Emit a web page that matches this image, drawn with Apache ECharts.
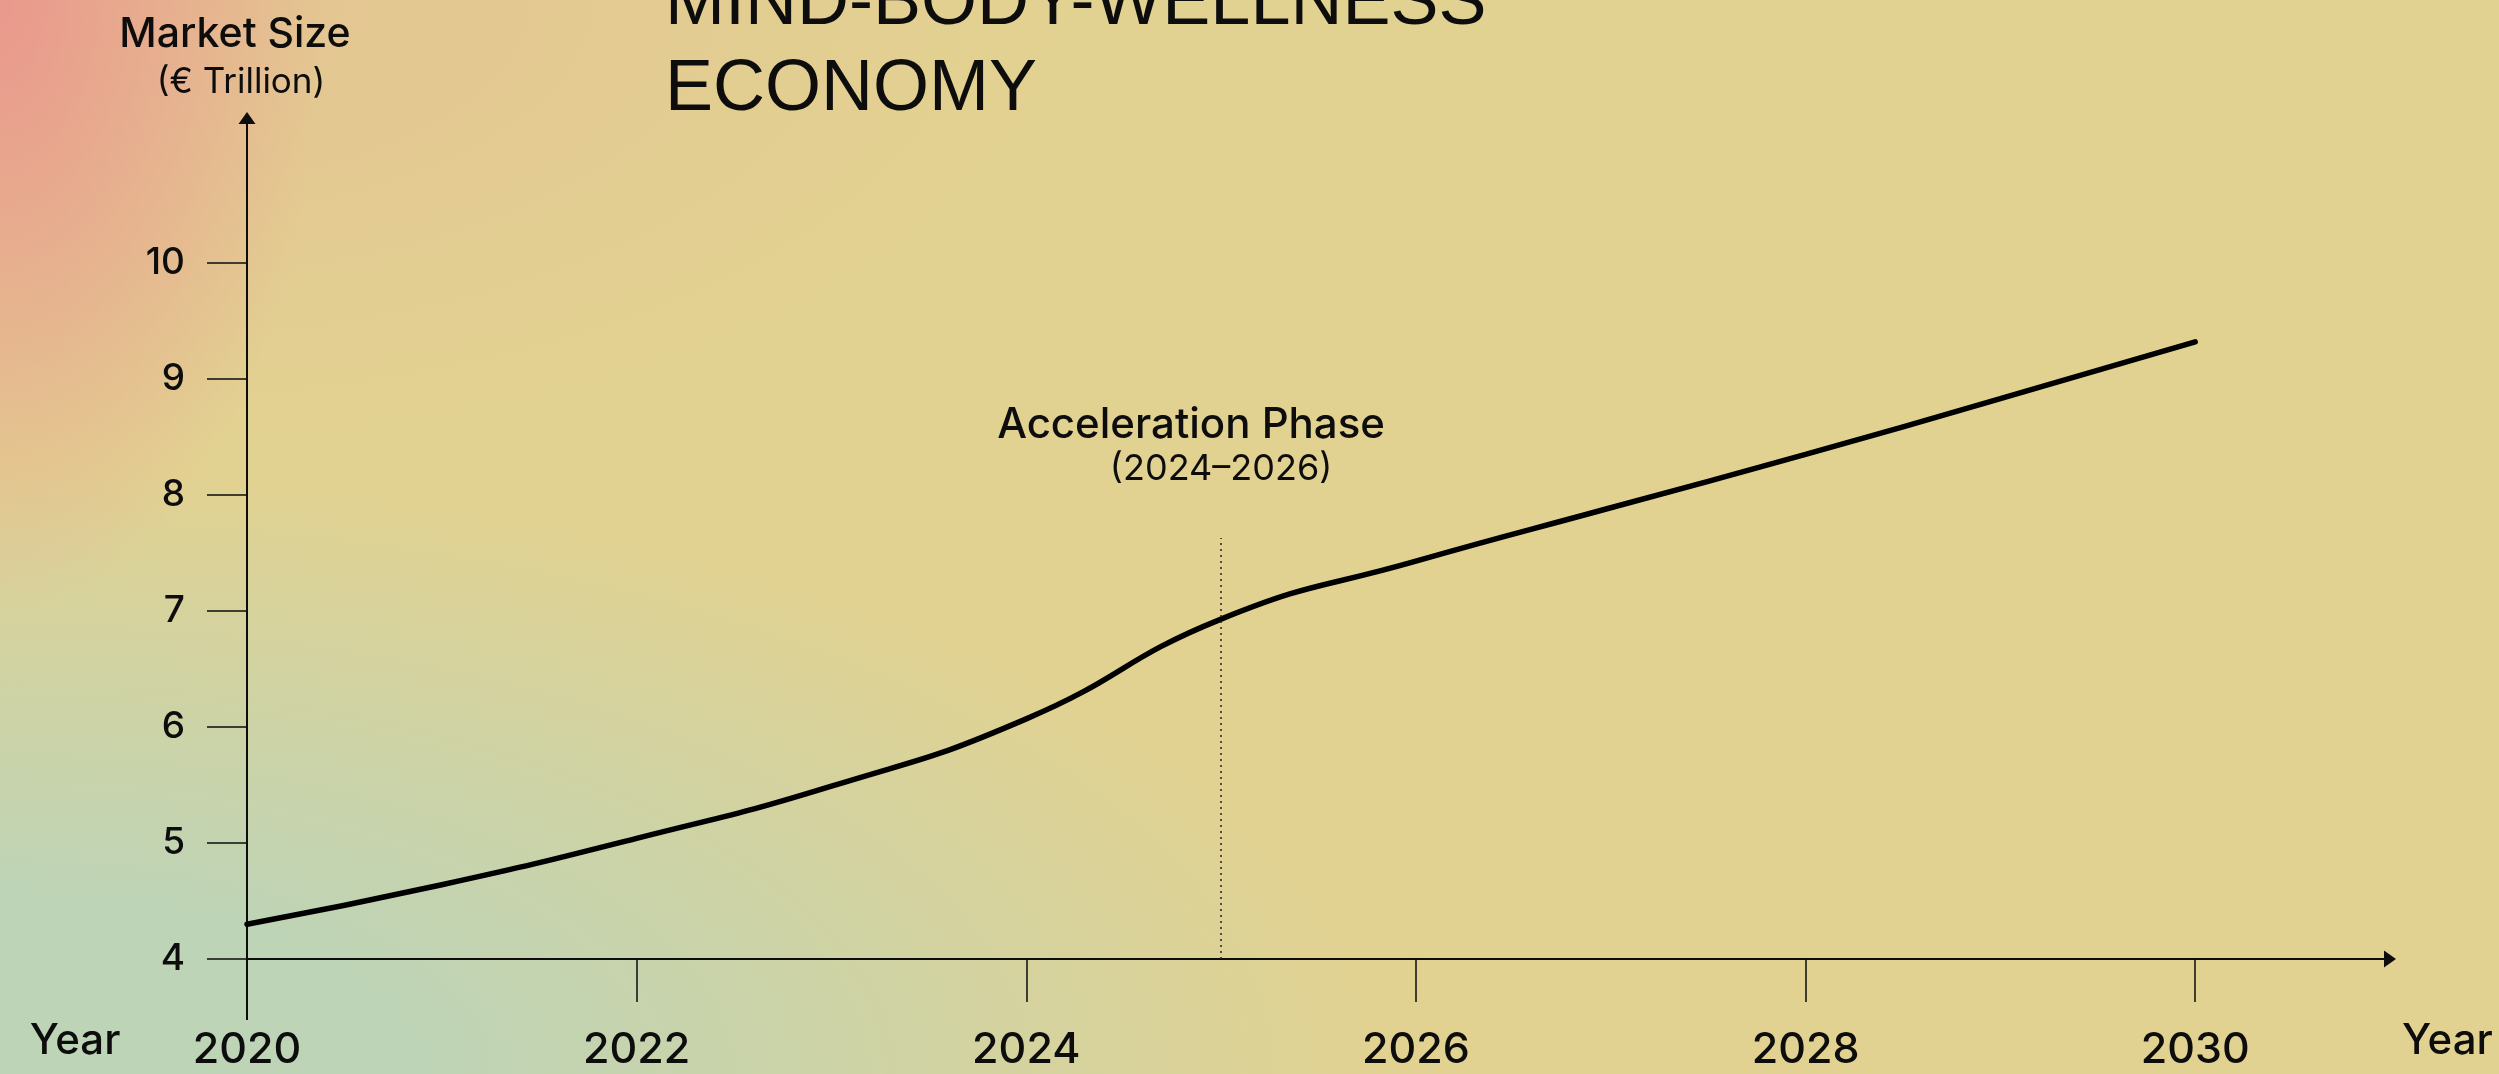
<!DOCTYPE html>
<html>
<head>
<meta charset="utf-8">
<title>Mind-Body-Wellness Economy</title>
<script src="https://cdn.jsdelivr.net/npm/echarts@6.0.0/dist/echarts.min.js"></script>
<style>
    html, body {
        margin: 0;
        padding: 0;
    }
    #chart {
        width: 2499px;
        height: 1074px;
        background:
            radial-gradient(ellipse 380px 720px at 0% 0%, rgba(234, 150, 140, 0.95), rgba(234, 150, 140, 0) 85%),
            radial-gradient(ellipse 1700px 740px at 0% 100%, rgba(190, 212, 182, 1) 25%, rgba(190, 212, 182, 0) 82%),
            radial-gradient(ellipse 1100px 520px at 5% 0%, rgba(229, 190, 146, 0.75), rgba(229, 190, 146, 0) 85%),
            #e2d291;
    }
</style>
</head>
<body>
<div id="chart"></div>
<script>
    // market size, € trillion
    var years = [2020, 2021, 2022, 2023, 2024, 2025, 2026, 2027, 2028, 2029, 2030];
    var marketSize = [4.30, 4.64, 5.04, 5.49, 6.07, 6.93, 7.43, 7.89, 8.35, 8.83, 9.32];
    var yearTicks = [2020, 2022, 2024, 2026, 2028, 2030];
    var sizeTicks = [4, 5, 6, 7, 8, 9, 10];
    var phaseYear = 2025;
    var phaseTop = 7.63;

    var font = 'Inter';
    var ink = '#0d0d0d';

    var chart = echarts.init(document.getElementById('chart'), null, {renderer: 'canvas'});

    var lineData = [];
    for (var i = 0; i < years.length; i++) {
        lineData.push([years[i], marketSize[i]]);
    }

    var option = {
        backgroundColor: 'transparent',
        animation: false,
        title: {
            text: 'MIND-BODY-WELLNESS\nECONOMY',
            left: 665,
            top: -39,
            padding: 0,
            textStyle: {
                fontFamily: 'Liberation Sans',
                fontSize: 72,
                fontWeight: 'normal',
                lineHeight: 86,
                color: ink
            }
        },
        grid: {
            left: 247,
            right: 109,
            top: 118,
            bottom: 115,
            containLabel: false
        },
        xAxis: [{
            type: 'value',
            min: 2020,
            max: 2031,
            interval: 2,
            splitLine: {show: false},
            axisLine: {
                show: true,
                symbol: ['none', 'triangle'],
                symbolSize: [17, 12],
                lineStyle: {color: ink, width: 2}
            },
            axisTick: {
                show: true,
                customValues: yearTicks.slice(1),
                length: 43,
                lineStyle: {color: ink, width: 1.5}
            },
            axisLabel: {
                customValues: yearTicks,
                margin: 69,
                fontFamily: font,
                fontSize: 43,
                fontWeight: 500,
                lineHeight: 44,
                color: ink,
                formatter: function (v) { return String(v); }
            }
        }, {
            // the y axis runs on below the x axis at 2020
            type: 'value',
            min: 2020,
            max: 2031,
            position: 'bottom',
            splitLine: {show: false},
            axisLine: {show: false},
            axisLabel: {show: false},
            axisTick: {
                show: true,
                customValues: [2020],
                length: 61,
                lineStyle: {color: ink, width: 2}
            }
        }],
        yAxis: {
            type: 'value',
            min: 4,
            max: 11.25,
            interval: 1,
            splitLine: {show: false},
            axisLine: {
                show: true,
                symbol: ['none', 'triangle'],
                symbolSize: [17, 12],
                lineStyle: {color: ink, width: 2}
            },
            axisTick: {
                show: true,
                customValues: sizeTicks,
                length: 40,
                lineStyle: {color: ink, width: 1.5}
            },
            axisLabel: {
                customValues: sizeTicks,
                margin: 62,
                fontFamily: font,
                fontSize: 37,
                fontWeight: 500,
                color: ink
            }
        },
        graphic: [
            {
                type: 'text', x: 235, y: 35,
                style: {
                    text: 'Market Size', fill: ink,
                    font: '500 41px Inter',
                    textAlign: 'center', textVerticalAlign: 'middle'
                }
            },
            {
                type: 'text', x: 241, y: 82,
                style: {
                    text: '(€ Trillion)', fill: ink,
                    font: '400 35px Inter',
                    textAlign: 'center', textVerticalAlign: 'middle'
                }
            },
            {
                type: 'text', x: 75, y: 1041,
                style: {
                    text: 'Year', fill: ink,
                    font: '500 42px Inter',
                    textAlign: 'center', textVerticalAlign: 'middle'
                }
            },
            {
                type: 'text', x: 2402, y: 1041,
                style: {
                    text: 'Year', fill: ink,
                    font: '500 42px Inter',
                    textAlign: 'left', textVerticalAlign: 'middle'
                }
            }
        ],
        series: [{
            name: 'Market Size',
            type: 'line',
            xAxisIndex: 0,
            data: lineData,
            smooth: 0.5,
            showSymbol: false,
            lineStyle: {color: '#000', width: 5.5, cap: 'round'},
            markLine: {
                silent: true,
                symbol: 'none',
                lineStyle: {color: '#222', width: 1.5, type: [2, 4]},
                label: {
                    show: true,
                    position: 'end',
                    distance: 47,
                    color: ink,
                    formatter: '{a|Acceleration Phase}\n{b|(2024–2026)}',
                    rich: {
                        a: {
                            fontFamily: font, fontSize: 42, fontWeight: 500,
                            lineHeight: 44, color: ink, padding: [0, 60, 0, 0]
                        },
                        b: {
                            fontFamily: font, fontSize: 36, fontWeight: 400,
                            lineHeight: 44, color: ink
                        }
                    }
                },
                data: [[
                    {coord: [phaseYear, 4]},
                    {coord: [phaseYear, phaseTop]}
                ]]
            }
        }]
    };

    chart.setOption(option);
</script>
</body>
</html>
